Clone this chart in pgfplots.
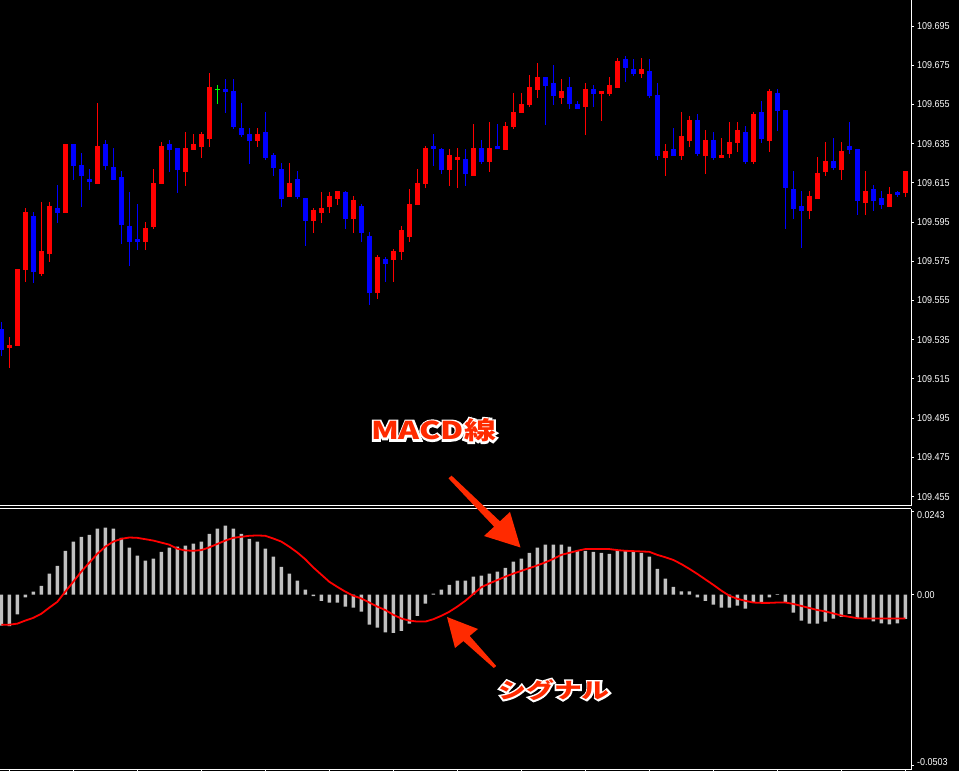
\documentclass[border=0pt]{standalone}
\usepackage{pgfplots}
\pgfplotsset{compat=1.18}
\usepackage{pgfplotstable}
\usepackage{fontspec}
\newfontfamily\tickfont{Liberation Sans}[FakeStretch=0.9]
\newfontfamily\cjk{Noto Sans CJK JP}[FakeStretch=1.3]
\newfontfamily\cjkhalo{Noto Sans CJK JP}[FakeStretch=1.3, FakeBold=16, BoldFeatures={FakeBold=16}]
\definecolor{cRed}{RGB}{255,0,0}
\definecolor{cBlue}{RGB}{0,0,255}
\definecolor{cDoji}{RGB}{0,255,0}
\definecolor{cHist}{RGB}{192,192,192}
\definecolor{cNote}{RGB}{255,42,0}

% bullish candles (red): bar, open, high, low, close
\pgfplotstableread{
i o h l c
1 109.5310 109.5364 109.5208 109.5324
2 109.5320 109.5711 109.5320 109.5711
3 109.5708 109.6021 109.5647 109.6002
5 109.5687 109.6055 109.5677 109.5803
6 109.5789 109.6055 109.5749 109.6032
8 109.5998 109.6349 109.5998 109.6349
12 109.6146 109.6558 109.6146 109.6338
18 109.5851 109.5953 109.5810 109.5920
19 109.5925 109.6221 109.5915 109.6150
20 109.6146 109.6359 109.6146 109.6338
23 109.6208 109.6410 109.6136 109.6328
24 109.6320 109.6400 109.6320 109.6349
25 109.6335 109.6410 109.6279 109.6400
26 109.6376 109.6711 109.6335 109.6639
32 109.6366 109.6430 109.6335 109.6400
36 109.6080 109.6252 109.6080 109.6150
39 109.5958 109.6022 109.5896 109.6012
40 109.5998 109.6106 109.5947 109.6022
41 109.6029 109.6106 109.5998 109.6083
42 109.6070 109.6109 109.6039 109.6109
44 109.5968 109.6083 109.5896 109.6063
47 109.5590 109.5783 109.5560 109.5772
49 109.5759 109.5813 109.5647 109.5803
50 109.5800 109.5930 109.5759 109.5910
51 109.5874 109.6119 109.5851 109.6043
52 109.6039 109.6221 109.6039 109.6150
53 109.6146 109.6338 109.6126 109.6328
56 109.6218 109.6323 109.6136 109.6293
57 109.6269 109.6328 109.6126 109.6282
59 109.6187 109.6451 109.6187 109.6328
61 109.6259 109.6461 109.6208 109.6328
63 109.6320 109.6461 109.6320 109.6440
64 109.6435 109.6609 109.6427 109.6512
65 109.6508 109.6609 109.6508 109.6553
66 109.6548 109.6701 109.6537 109.6639
67 109.6626 109.6762 109.6585 109.6690
70 109.6585 109.6680 109.6554 109.6619
73 109.6537 109.6660 109.6396 109.6629
75 109.6605 109.6619 109.6468 109.6619
76 109.6605 109.6690 109.6595 109.6650
77 109.6636 109.6787 109.6636 109.6772
80 109.6707 109.6787 109.6687 109.6731
83 109.6279 109.6349 109.6187 109.6313
85 109.6289 109.6512 109.6269 109.6389
86 109.6364 109.6491 109.6335 109.6471
88 109.6289 109.6420 109.6197 109.6369
90 109.6279 109.6379 109.6279 109.6293
91 109.6299 109.6461 109.6279 109.6359
92 109.6354 109.6461 109.6310 109.6420
94 109.6259 109.6512 109.6248 109.6502
96 109.6364 109.6629 109.6310 109.6619
101 109.6009 109.6109 109.5968 109.6083
102 109.6070 109.6282 109.6070 109.6201
103 109.6208 109.6359 109.6187 109.6262
105 109.6218 109.6359 109.6167 109.6313
108 109.6049 109.6211 109.5988 109.6109
111 109.6029 109.6129 109.6029 109.6094
113 109.6100 109.6211 109.6080 109.6211
}\upT

% bearish candles (blue)
\pgfplotstableread{
i o h l c
0 109.5405 109.5442 109.5269 109.5300
4 109.5981 109.6002 109.5641 109.5698
7 109.6022 109.6140 109.5947 109.5998
9 109.6349 109.6349 109.6167 109.6238
10 109.6242 109.6303 109.6029 109.6187
11 109.6170 109.6221 109.6116 109.6157
13 109.6349 109.6369 109.6218 109.6238
14 109.6231 109.6328 109.6167 109.6167
15 109.6180 109.6211 109.5840 109.5936
16 109.5930 109.6106 109.5728 109.5851
17 109.5864 109.6044 109.5810 109.5851
21 109.6349 109.6369 109.6208 109.6320
22 109.6328 109.6328 109.6099 109.6218
28 109.6629 109.6680 109.6508 109.6616
29 109.6619 109.6680 109.6427 109.6435
30 109.6430 109.6558 109.6386 109.6396
31 109.6400 109.6430 109.6248 109.6366
33 109.6410 109.6512 109.6269 109.6279
34 109.6293 109.6303 109.6187 109.6228
35 109.6221 109.6252 109.6029 109.6070
37 109.6170 109.6211 109.6070 109.6080
38 109.6073 109.6073 109.5830 109.5958
43 109.6104 109.6109 109.5917 109.5968
45 109.6032 109.6043 109.5851 109.5896
46 109.5879 109.5900 109.5529 109.5590
48 109.5762 109.5772 109.5647 109.5738
54 109.6338 109.6400 109.6238 109.6323
55 109.6323 109.6328 109.6197 109.6218
58 109.6272 109.6323 109.6136 109.6197
60 109.6328 109.6369 109.6248 109.6259
62 109.6338 109.6451 109.6323 109.6323
68 109.6690 109.6690 109.6446 109.6646
69 109.6660 109.6752 109.6548 109.6595
71 109.6639 109.6690 109.6527 109.6554
72 109.6553 109.6568 109.6527 109.6527
74 109.6629 109.6650 109.6537 109.6605
78 109.6782 109.6797 109.6667 109.6738
79 109.6731 109.6782 109.6697 109.6707
81 109.6721 109.6782 109.6585 109.6595
82 109.6599 109.6660 109.6269 109.6289
84 109.6323 109.6430 109.6289 109.6289
87 109.6471 109.6502 109.6289 109.6299
89 109.6369 109.6410 109.6269 109.6279
93 109.6410 109.6440 109.6248 109.6259
95 109.6512 109.6568 109.6354 109.6376
97 109.6609 109.6629 109.6415 109.6517
98 109.6522 109.6522 109.5917 109.6126
99 109.6119 109.6211 109.5968 109.6019
100 109.6032 109.6109 109.5820 109.6009
104 109.6262 109.6379 109.6218 109.6228
106 109.6338 109.6461 109.6299 109.6320
107 109.6323 109.6323 109.5988 109.6060
109 109.6119 109.6140 109.6009 109.6060
110 109.6073 109.6109 109.6019 109.6039
112 109.6104 109.6109 109.6080 109.6090
}\dnT

% doji
\pgfplotstableread{
i o h l c
27 109.6627 109.6650 109.6554 109.6622
}\djT

% MACD histogram (m) and signal (s)
\pgfplotstableread{
i m s
0 -0.0091 -0.0088
1 -0.0092 -0.0088
2 -0.0058 -0.0085
3 -0.0008 -0.0076
4 0.0009 -0.0068
5 0.0026 -0.0056
6 0.0062 -0.0038
7 0.0085 -0.0021
8 0.0129 0.0009
9 0.0156 0.0038
10 0.0170 0.0068
11 0.0176 0.0094
12 0.0194 0.0120
13 0.0197 0.0141
14 0.0194 0.0156
15 0.0167 0.0164
16 0.0138 0.0168
17 0.0115 0.0167
18 0.0100 0.0163
19 0.0106 0.0159
20 0.0126 0.0153
21 0.0138 0.0147
22 0.0141 0.0135
23 0.0144 0.0130
24 0.0150 0.0129
25 0.0156 0.0131
26 0.0179 0.0139
27 0.0194 0.0149
28 0.0203 0.0159
29 0.0194 0.0167
30 0.0179 0.0170
31 0.0164 0.0173
32 0.0156 0.0174
33 0.0135 0.0173
34 0.0112 0.0165
35 0.0082 0.0156
36 0.0062 0.0141
37 0.0041 0.0124
38 0.0015 0.0104
39 -0.0004 0.0080
40 -0.0018 0.0059
41 -0.0023 0.0038
42 -0.0023 0.0023
43 -0.0035 0.0009
44 -0.0038 -0.0003
45 -0.0050 -0.0011
46 -0.0088 -0.0023
47 -0.0097 -0.0035
48 -0.0111 -0.0045
49 -0.0112 -0.0059
50 -0.0106 -0.0070
51 -0.0085 -0.0076
52 -0.0062 -0.0079
53 -0.0026 -0.0079
54 0.0003 -0.0072
55 0.0015 -0.0062
56 0.0029 -0.0050
57 0.0041 -0.0035
58 0.0041 -0.0018
59 0.0053 0.0002
60 0.0056 0.0022
61 0.0062 0.0033
62 0.0068 0.0043
63 0.0079 0.0053
64 0.0097 0.0062
65 0.0106 0.0070
66 0.0123 0.0078
67 0.0138 0.0086
68 0.0147 0.0095
69 0.0147 0.0105
70 0.0147 0.0117
71 0.0141 0.0123
72 0.0129 0.0129
73 0.0129 0.0134
74 0.0126 0.0134
75 0.0123 0.0134
76 0.0120 0.0134
77 0.0129 0.0131
78 0.0129 0.0129
79 0.0126 0.0128
80 0.0123 0.0127
81 0.0112 0.0126
82 0.0076 0.0117
83 0.0047 0.0110
84 0.0023 0.0102
85 0.0010 0.0090
86 0.0010 0.0076
87 -0.0008 0.0061
88 -0.0018 0.0045
89 -0.0029 0.0029
90 -0.0038 0.0012
91 -0.0038 -0.0003
92 -0.0032 -0.0012
93 -0.0041 -0.0018
94 -0.0023 -0.0023
95 -0.0023 -0.0024
96 -0.0008 -0.0024
97 0.0002 -0.0023
98 -0.0021 -0.0023
99 -0.0053 -0.0027
100 -0.0076 -0.0033
101 -0.0085 -0.0039
102 -0.0085 -0.0045
103 -0.0079 -0.0049
104 -0.0070 -0.0055
105 -0.0065 -0.0061
106 -0.0056 -0.0065
107 -0.0070 -0.0069
108 -0.0070 -0.0070
109 -0.0078 -0.0070
110 -0.0084 -0.0070
111 -0.0087 -0.0070
112 -0.0084 -0.0070
113 -0.0071 -0.0070
}\macdT

\pgfplotsset{
  candle wick/.style={forget plot, draw=none, mark=none,
    error bars/.cd, y dir=plus, y explicit, error mark=none,
    error bar style={draw=#1, solid, line width=1bp}},
  candle body/.style={forget plot, draw=none, mark=none,
    error bars/.cd, y dir=plus, y explicit, error mark=none,
    error bar style={draw=#1, solid, line width=5bp}},
  chart axis/.style={
    scale only axis, width=911bp,
    xmin=-0.1625, xmax=113.7125,
    axis line style={white, line width=1bp},
    tick align=outside, major tick length=3bp,
    tick style={white, line width=1bp},
    scaled y ticks=false,
    /pgf/number format/assume math mode=true,
    yticklabel style={font=\tickfont\fontsize{10bp}{12bp}\selectfont,
      text=white, inner sep=0pt, xshift=3bp},
  },
}

% label with a white halo behind it
\newcommand\note[3]{%
  \node[text=white, font=\cjkhalo\bfseries\fontsize{#2}{#2}\selectfont] at (#1) {#3};
  \node[text=cNote, font=\cjk\bfseries\fontsize{#2}{#2}\selectfont] at (#1) {#3};}

\begin{document}
\begin{tikzpicture}
\fill[black] (0,0) rectangle (959bp,771bp);
\useasboundingbox (0,0) rectangle (959bp,771bp);

% price panel
\begin{axis}[chart axis,
  at={(0bp,771bp)}, anchor=north west, height=506bp,
  ymin=109.4502, ymax=109.7083,
  axis x line*=bottom, axis y line*=right,
  xtick=\empty,
  ytick={109.455,109.475,109.495,109.515,109.535,109.555,109.575,109.595,109.615,109.635,109.655,109.675,109.695},
  yticklabels={109.455,109.475,109.495,109.515,109.535,109.555,109.575,109.595,109.615,109.635,109.655,109.675,109.695},
]
\addplot[candle wick=cRed] table[x=i, y=l, y error expr=\thisrow{h}-\thisrow{l}] {\upT};
\addplot[candle wick=cBlue] table[x=i, y=l, y error expr=\thisrow{h}-\thisrow{l}] {\dnT};
\addplot[candle wick=cDoji] table[x=i, y=l, y error expr=\thisrow{h}-\thisrow{l}] {\djT};
\addplot[candle body=cRed] table[x=i, y=o, y error expr=\thisrow{c}-\thisrow{o}] {\upT};
\addplot[candle body=cBlue] table[x=i, y=c, y error expr=\thisrow{o}-\thisrow{c}] {\dnT};
\addplot[candle body=cDoji] table[x=i, y=c, y error expr=\thisrow{o}-\thisrow{c}] {\djT};
\end{axis}

% MACD panel
\begin{axis}[chart axis,
  at={(0bp,262.3bp)}, anchor=north west, height=260.8bp,
  ymin=-0.05134, ymax=0.02526,
  axis x line*=box, axis y line*=right,
  xtick={1,9,...,113}, xticklabels={}, xtick pos=left,
  ytick={-0.0503,0,0.0243},
  yticklabels={\raisebox{3.7bp}[\height][\depth]{-0.0503},0.00,\raisebox{-3.3bp}[\height][\depth]{0.0243}},
]
\addplot[ybar, bar width=3.5bp, fill=cHist, draw=none] table[x=i, y=m] {\macdT};
\addplot[cRed, line width=1.8bp, mark=none] table[x=i, y=s] {\macdT};
\end{axis}

% annotations
\note{433.5bp,340.5bp}{24.5bp}{MACD線}
\note{554bp,81bp}{21.5bp}{シグナル}
\fill[cNote] (448.5bp,292.6bp) -- (494.1bp,244.3bp) -- (484bp,235bp) -- (520.5bp,223.5bp)
  -- (510bp,259bp) -- (499.9bp,249.7bp) -- (451.5bp,295.4bp) -- cycle;
\fill[cNote] (447bp,154bp) -- (478bp,142bp) -- (469.6bp,135.1bp) -- (496.2bp,105bp)
  -- (493.8bp,103bp) -- (463.4bp,129.9bp) -- (455bp,123bp) -- cycle;
\end{tikzpicture}
\end{document}
